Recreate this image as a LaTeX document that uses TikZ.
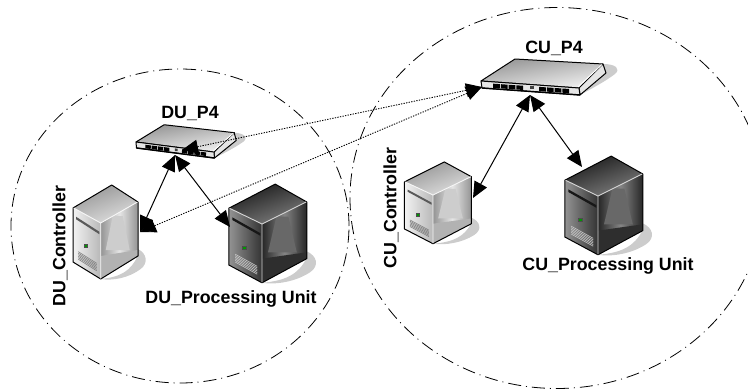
\documentclass[tikz,border=0pt]{standalone}
\usepackage{fontspec}
\setmainfont{Liberation Sans}
\usetikzlibrary{arrows.meta,shapes.geometric}
\colorlet{Shadow}{black!20}
\colorlet{LtTopA}{black!42}
\colorlet{LtTopB}{black!12}
\colorlet{LtLeftA}{black!5}
\colorlet{LtLeftB}{black!28}
\colorlet{LtEdge}{black!42}
\colorlet{LtMid}{black!10}
\colorlet{LtBase}{black!30}
\colorlet{LtVent}{black!50}
\colorlet{DkTopA}{black!90}
\colorlet{DkTopB}{black!50}
\colorlet{DkLeftA}{black!42}
\colorlet{DkLeftB}{black!80}
\colorlet{DkEdge}{black!85}
\colorlet{DkMid}{black!48}
\colorlet{DkBase}{black!82}
\colorlet{DkVent}{black!22}
\tikzset{
	zone/.style={line width=0.8pt, dash pattern=on 13pt off 5pt on 1pt off 5pt},
	lbl/.style={inner sep=0pt, font=\fontsize{17.8}{20}\selectfont\bfseries},
	link/.style={line width=1pt, {Triangle[length=16pt,width=14pt]}-{Triangle[length=16pt,width=14pt]}},
	tunnel/.style={line width=0.9pt, dash pattern=on 1.3pt off 1.3pt, {Triangle[length=16pt,width=14pt]}-{Triangle[length=16pt,width=14pt]}},
	face/.style={draw=black, line width=1pt, line join=round},
	pics/server/.style n args={8}{code={
		\fill [Shadow] (0,56) .. controls (20,54) and (30,48) .. (37,33) -- (37,26) .. controls (46,30) and (48,40) .. (40,46) .. controls (28,55) and (12,58) .. (0,56) -- cycle;
		\path [top color=#1, bottom color=#2, shading angle=20] (0,0) -- (-27.7,-15) -- (11,-38) -- (37.3,-21) -- cycle;
		\path [left color=#3, right color=#4] (0,0) -- (-27.7,-15) -- (-27.7,39) -- (0,56) -- cycle;
		\path [left color=#5, right color=#5, middle color=#6] (0,0) -- (37.3,-21) -- (37.3,33) -- (0,56) -- cycle;
		\fill [#6!70!#5] (12,-7) -- (22,-7) -- (29,27) -- (5,27) -- cycle;
		\fill [#7] (0,56) -- (37,33) -- (37,27) -- (0,33) -- cycle;
		\draw [face] (0,56) -- (37.3,33) -- (37.3,-21) -- (11,-38) -- (-27.7,-15) -- (-27.7,39) -- cycle;
		\draw [#6!35!white, line width=0.9pt] (-27,-15) -- (0,0) -- (0,55.5) (0,0) -- (36.8,-21);
		\fill [#5!60!black] (-24.7,-6.3) -- (-1.4,8.7) -- (-1.4,11.2) -- (-24.7,-3.8) -- cycle;
		\fill [black!70] (-16.7,21) rectangle (-12.7,25);
		\fill [green!60!black] (-15.7,22) rectangle (-13.7,24);
		\foreach \y in {0,1.5,3,4.5,6,7.5}
			\draw [#8, line width=0.6pt] (-22.4,28.7+\y) -- (-4,40.3+\y);
	}},
	pics/lightserver/.style={/tikz/pics/server={LtTopA}{LtTopB}{LtLeftA}{LtLeftB}{LtEdge}{LtMid}{LtBase}{LtVent}},
	pics/darkserver/.style={/tikz/pics/server={DkTopA}{DkTopB}{DkLeftA}{DkLeftB}{DkEdge}{DkMid}{DkBase}{DkVent}},
	pics/switch/.style={code={
		\fill [Shadow] (122,-17) .. controls (135,-17) and (140,-12) .. (134,-7) .. controls (125,0) and (110,8) .. (99,14) -- cycle;
		\path [face, top color=black!42, bottom color=black!5, shading angle=10] (0,0) -- (34,-22) -- (122,-17) -- (98,7) -- cycle;
		\path [face, fill=black!10] (122,-17) -- (125,-8) -- (99,14) -- (98,7) -- cycle;
		\path [face, fill=black!10] (0,0) -- (98,7) -- (99,14) -- (1,7) -- cycle;
		\draw [white, line width=1pt] (97,6) -- (121,-16.5);
		\foreach \x in {12,19.8,27.6,35.4,58,65.8,73.6,81.4}
			\fill [black] (\x,{.07*\x+1.8}) -- ++(6.8,.5) -- ++(0,4.2) -- ++(-6.8,-.5) -- cycle;
		\fill [black!75] (49,5.2) rectangle (52.5,8.2);
		\draw [black, line width=1.4pt] (1,7) -- (99,14);
	}},
}

\begin{document}
\begin{tikzpicture}[x=1pt,y=-1pt]
	\useasboundingbox (0,0) rectangle (748,391);
	\node (du_zone) [zone, draw, ellipse, minimum width=338pt, minimum height=314pt, inner sep=0pt] at (180,226) {};
	\node (cu_zone) [zone, draw, ellipse, minimum width=414pt, minimum height=381pt, inner sep=0pt] at (557,198) {};
	\pic (du_ctrl) at (100.7,223) {lightserver};
	\pic (du_proc) [xscale=1.2, yscale=1.05] at (262,224) {darkserver};
	\pic (cu_ctrl) [xscale=1.03, yscale=.87] at (433,195) {lightserver};
	\pic (cu_proc) [xscale=1.2, yscale=1.05] at (598,196) {darkserver};
	\pic (du_p4) [rotate=-3, xscale=.8, yscale=.85] at (136,142) {switch};
	\pic (cu_p4) at (481,81) {switch};
	\node (du_p4_lbl) [lbl] at (190,113) {DU\_P4};
	\node (cu_p4_lbl) [lbl] at (554,48) {CU\_P4};
	\node (du_ctrl_lbl) [lbl, rotate=90] at (60,246) {DU\_Controller};
	\node (cu_ctrl_lbl) [lbl, rotate=90] at (391,208) {CU\_Controller};
	\node (du_proc_lbl) [lbl] at (231,299) {DU\_Processing Unit};
	\node (cu_proc_lbl) [lbl] at (608,266) {CU\_Processing Unit};
	\coordinate (du_p4_s) at (175,155);
	\coordinate (du_p4_e) at (182,150);
	\coordinate (du_ctrl_e) at (140,232);
	\coordinate (du_proc_w) at (230,227);
	\coordinate (cu_p4_w) at (482,87);
	\coordinate (cu_p4_s) at (530,95);
	\coordinate (cu_ctrl_e) at (473,198);
	\coordinate (cu_proc_n) at (582,167);
	\draw [link] (du_p4_s) -- (du_ctrl_e);
	\draw [link] (du_p4_s) -- (du_proc_w);
	\draw [link] (cu_p4_s) -- (cu_ctrl_e);
	\draw [link] (cu_p4_s) -- (cu_proc_n);
	\draw [tunnel] (du_p4_e) -- (cu_p4_w);
	\draw [tunnel] (du_ctrl_e) -- (cu_p4_w);
\end{tikzpicture}
\end{document}
